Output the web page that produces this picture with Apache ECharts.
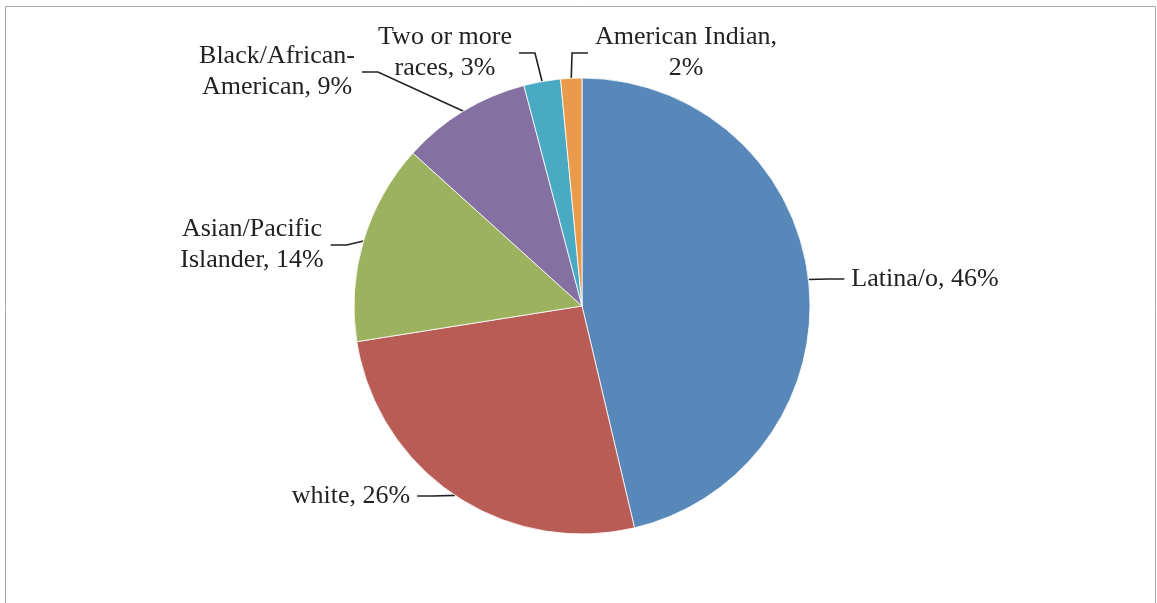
<!DOCTYPE html>
<html>
<head>
<meta charset="utf-8">
<script src="https://cdn.jsdelivr.net/npm/echarts@6/dist/echarts.min.js"></script>
<style>
html,body{margin:0;padding:0;background:#fff;}
#chart{width:1157px;height:603px;}
</style>
</head>
<body>
<div id="chart"></div>
<script>
// ---- data ----
const categories = ['Latina/o', 'white', 'Asian/Pacific\nIslander', 'Black/African-\nAmerican', 'Two or more\nraces', 'American Indian,\n'];
const values = [46.3, 26.2, 14.2, 9.2, 2.6, 1.5];
const colors = ['#5888B9', '#B95C56', '#9CB25F', '#8470A1', '#4BAAC3', '#E99A4B'];

// ---- label layout (label centres, px) ----
const labelPos = [[925, 279], [351, 496], [252, 245], [277, 72], [445, 53], [686, 53]];

const chart = echarts.init(document.getElementById('chart'), null, {renderer: 'canvas'});

const seriesData = categories.map((c, i) => ({
  name: c,
  value: values[i],
  itemStyle: {color: colors[i]}
}));

chart.setOption({
  backgroundColor: '#ffffff',
  animation: false,
  graphic: [{
    type: 'rect',
    shape: {x: 5.5, y: 6.5, width: 1150, height: 700},
    style: {fill: 'none', stroke: '#a8a8a8', lineWidth: 1},
    silent: true
  }],
  series: [{
    type: 'pie',
    center: [582, 306],
    radius: 228,
    startAngle: 90,
    clockwise: true,
    avoidLabelOverlap: false,
    percentPrecision: 0,
    data: seriesData,
    itemStyle: {borderColor: '#ffffff', borderWidth: 0.8},
    label: {
      show: true,
      position: 'outside',
      fontFamily: 'Liberation Serif',
      fontSize: 26,
      lineHeight: 31,
      color: '#222222',
      align: 'center',
      padding: [0, 7],
      formatter: function (p) {
        const n = p.name;
        if (n.endsWith('\n')) return n + p.percent + '%';
        return n + ', ' + p.percent + '%';
      }
    },
    labelLine: {
      show: true,
      length: 15,
      length2: 16,
      smooth: false,
      lineStyle: {color: '#222222', width: 1.6}
    },
    labelLayout: function (params) {
      const p = labelPos[params.dataIndex];
      return {x: p[0], y: p[1], align: 'center', verticalAlign: 'middle'};
    }
  }]
});
</script>
</body>
</html>
